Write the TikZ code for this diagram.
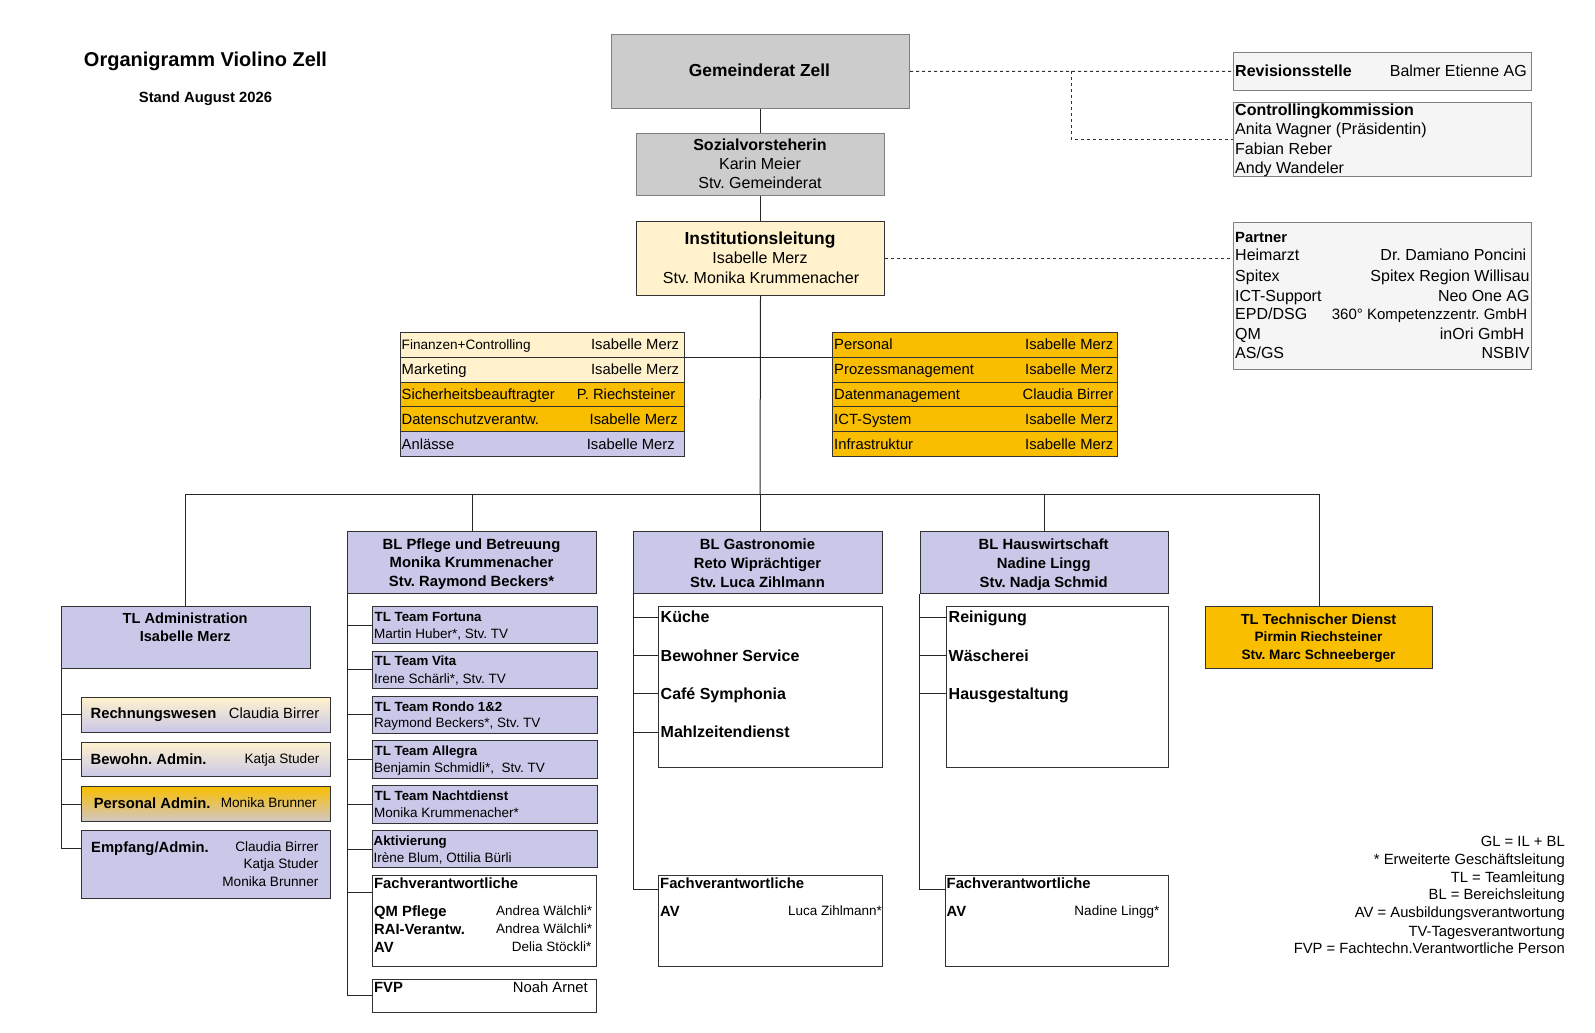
\documentclass[tikz,border=0pt]{standalone}
\usepackage{fontspec}
\setmainfont{Liberation Sans}
\usetikzlibrary{calc}
\frenchspacing
\definecolor{gold}{HTML}{F9BE00}
\definecolor{cream}{HTML}{FFF2CC}
\definecolor{lav}{HTML}{C9C8E8}
\definecolor{gry}{HTML}{CCCCCC}
\definecolor{gryb}{HTML}{7F7F7F}
\definecolor{pan}{HTML}{F5F5F5}
\definecolor{panb}{HTML}{808080}
\definecolor{dk}{HTML}{333333}
\tikzset{
  tx/.style={inner sep=0pt, font=\fontsize{#1pt}{#1pt}\selectfont, text height={0.716*#1pt}, text depth=0pt},
  bt/.style={inner sep=0pt, font=\fontsize{#1pt}{#1pt}\selectfont\bfseries, text height={0.716*#1pt}, text depth=0pt},
  lft/.style={anchor=west},
  rgt/.style={anchor=east},
  bx/.style={draw=dk, line width=1pt, inner sep=0pt, anchor=north west},
  gbx/.style={draw=gryb, fill=gry, line width=1pt, inner sep=0pt, anchor=north west},
  pbx/.style={draw=panb, fill=pan, line width=1pt, inner sep=0pt, anchor=north west},
  con/.style={draw=black!85, line width=1pt},
  dsh/.style={draw=black!80, line width=1pt, dash pattern=on 3pt off 3pt},
}
\begin{document}
\begin{tikzpicture}[x=1pt,y=-1pt]
\useasboundingbox (0,0) rectangle (1595,1033);

% title
\node[bt=20] (title) at (205.5,59) {Organigramm Violino Zell};
\node[bt=14.8] (stand) at (205.5,97.6) {Stand August 2026};

% top chain
\node[gbx, minimum width=298pt, minimum height=74pt] (gem) at (611,34) {};
\node[bt=17.4] (gemt) at (759.5,70.5) {Gemeinderat Zell};
\node[gbx, minimum width=248pt, minimum height=62pt] (soz) at (636,133) {};
\node[bt=16] (soz1) at (760,144.5) {Sozialvorsteherin};
\node[tx=16] (soz2) at (760,164) {Karin Meier};
\node[tx=16] (soz3) at (760,183) {Stv. Gemeinderat};
\node[bx, fill=cream, minimum width=248pt, minimum height=74pt] (inst) at (636,221) {};
\node[bt=17.4] (inst1) at (760,238) {Institutionsleitung};
\node[tx=16] (inst2) at (760,258) {Isabelle Merz};
\node[tx=16] (inst3) at (761,278) {Stv. Monika Krummenacher};

% right panels
\node[pbx, minimum width=298pt, minimum height=37.5pt] (rev) at (1233,52) {};
\node[bt=16, lft] (rev1) at (1235,70.5) {Revisionsstelle};
\node[tx=16, rgt] (rev2) at (1527,70.5) {Balmer Etienne AG};
\node[pbx, minimum width=298pt, minimum height=74pt] (ctrl) at (1233,102) {};
\node[bt=16, lft] (ctrl1) at (1235,110) {Controllingkommission};
\node[tx=16, lft] (ctrl2) at (1235,129) {Anita Wagner (Präsidentin)};
\node[tx=16, lft] (ctrl3) at (1235,148.5) {Fabian Reber};
\node[tx=16, lft] (ctrl4) at (1235,168) {Andy Wandeler};
\node[pbx, minimum width=298pt, minimum height=147pt] (partner) at (1233,222) {};
\node[bt=14.8, lft] (pt0) at (1235,237.5) {Partner};
\node[tx=16, lft] (pl1) at (1235,255) {Heimarzt};
\node[tx=16, lft] (pl2) at (1235,276) {Spitex};
\node[tx=16, lft] (pl3) at (1235,295.5) {ICT-Support};
\node[tx=16, lft] (pl4) at (1235,314) {EPD/DSG};
\node[tx=16, lft] (pl5) at (1235,334) {QM};
\node[tx=16, lft] (pl6) at (1235,352.7) {AS/GS};
\node[tx=16, rgt] (pr1) at (1526.5,255) {Dr. Damiano Poncini};
\node[tx=16, rgt] (pr2) at (1529.8,276) {Spitex Region Willisau};
\node[tx=16, rgt] (pr3) at (1529.8,295.5) {Neo One AG};
\node[tx=15, rgt] (pr4) at (1527.3,314) {360° Kompetenzzentr. GmbH};
\node[tx=16, rgt] (pr5) at (1524.5,334) {inOri GmbH};
\node[tx=16, rgt] (pr6) at (1529.8,352.7) {NSBIV};

% staff tables
\node[bx, fill=cream, minimum width=283.5pt, minimum height=24.9pt] (sl1) at (400,331.7) {};
\node[bx, fill=cream, minimum width=283.5pt, minimum height=24.9pt] (sl2) at (400,356.6) {};
\node[bx, fill=gold, minimum width=283.5pt, minimum height=24.9pt] (sl3) at (400,381.5) {};
\node[bx, fill=gold, minimum width=283.5pt, minimum height=24.9pt] (sl4) at (400,406.4) {};
\node[bx, fill=lav, minimum width=283.5pt, minimum height=24.9pt] (sl5) at (400,431.3) {};
\node[tx=13.6, lft] (sl1a) at (401.5,344.2) {Finanzen+Controlling};
\node[tx=14.8, rgt] (sl1b) at (679.3,344.2) {Isabelle Merz};
\node[tx=14.8, lft] (sl2a) at (401.5,369.1) {Marketing};
\node[tx=14.8, rgt] (sl2b) at (679.3,369.1) {Isabelle Merz};
\node[tx=14.8, lft] (sl3a) at (401.5,394) {Sicherheitsbeauftragter};
\node[tx=14.8, rgt] (sl3b) at (675.5,394) {P. Riechsteiner};
\node[tx=14.8, lft] (sl4a) at (401.5,418.9) {Datenschutzverantw.};
\node[tx=14.8, rgt] (sl4b) at (677.9,418.9) {Isabelle Merz};
\node[tx=14.8, lft] (sl5a) at (401.5,443.8) {Anlässe};
\node[tx=14.8, rgt] (sl5b) at (675,443.8) {Isabelle Merz};

\node[bx, fill=gold, minimum width=285pt, minimum height=24.9pt] (sr1) at (832,331.7) {};
\node[bx, fill=gold, minimum width=285pt, minimum height=24.9pt] (sr2) at (832,356.6) {};
\node[bx, fill=gold, minimum width=285pt, minimum height=24.9pt] (sr3) at (832,381.5) {};
\node[bx, fill=gold, minimum width=285pt, minimum height=24.9pt] (sr4) at (832,406.4) {};
\node[bx, fill=gold, minimum width=285pt, minimum height=24.9pt] (sr5) at (832,431.3) {};
\node[tx=14.8, lft] (sr1a) at (834,344.2) {Personal};
\node[tx=14.8, rgt] (sr1b) at (1113.4,344.2) {Isabelle Merz};
\node[tx=14.8, lft] (sr2a) at (834,369.1) {Prozessmanagement};
\node[tx=14.8, rgt] (sr2b) at (1113.4,369.1) {Isabelle Merz};
\node[tx=14.8, lft] (sr3a) at (834,394) {Datenmanagement};
\node[tx=14.8, rgt] (sr3b) at (1113.4,394) {Claudia Birrer};
\node[tx=14.8, lft] (sr4a) at (834,418.9) {ICT-System};
\node[tx=14.8, rgt] (sr4b) at (1113.4,418.9) {Isabelle Merz};
\node[tx=14.8, lft] (sr5a) at (834,443.8) {Infrastruktur};
\node[tx=14.8, rgt] (sr5b) at (1113.4,443.8) {Isabelle Merz};

% Administration
\node[bx, fill=lav, minimum width=248.5pt, minimum height=62pt] (adm) at (61,606) {};
\node[bt=14.6] (adm1) at (185.2,618.7) {TL Administration};
\node[bt=14.6] (adm2) at (185.2,636.7) {Isabelle Merz};
\node[bx, top color=cream, bottom color=lav, minimum width=249pt, minimum height=34.5pt] (rw) at (80.5,697) {};
\node[bt=14.8, lft] (rw1) at (90.4,713.5) {Rechnungswesen};
\node[tx=14.8, rgt] (rw2) at (319.6,713.5) {Claudia Birrer};
\node[bx, top color=cream, bottom color=lav, minimum width=249pt, minimum height=34.5pt] (bw) at (80.5,741.5) {};
\node[bt=14.8, lft] (bw1) at (90.4,759) {Bewohn. Admin.};
\node[tx=13.6, rgt] (bw2) at (319.6,759) {Katja Studer};
\node[bx, top color=gold, bottom color=lav!85!gold, minimum width=249pt, minimum height=35pt] (pa) at (80.5,786) {};
\node[bt=14.8, lft] (pa1) at (93.6,802.7) {Personal Admin.};
\node[tx=13.6, rgt] (pa2) at (317,802.7) {Monika Brunner};
\node[bx, fill=lav, minimum width=249pt, minimum height=68pt] (emp) at (80.5,830) {};
\node[bt=14.8, lft] (emp1) at (91,846.7) {Empfang/Admin.};
\node[tx=13.6, rgt] (emp2) at (318.6,846.7) {Claudia Birrer};
\node[tx=13.6, rgt] (emp3) at (318.6,864) {Katja Studer};
\node[tx=13.6, rgt] (emp4) at (318.6,881.7) {Monika Brunner};

% Pflege
\node[bx, fill=lav, minimum width=249pt, minimum height=62pt] (pfl) at (347,531) {};
\node[bt=14.8] (pfl1) at (471.5,544) {BL Pflege und Betreuung};
\node[bt=14.8] (pfl2) at (471.5,562) {Monika Krummenacher};
\node[bt=14.8] (pfl3) at (471.5,580.7) {Stv. Raymond Beckers*};

\node[bx, fill=lav, minimum width=224.5pt, minimum height=37.3pt] (t1) at (372,606) {};
\node[bt=13.3, lft] (t1a) at (374.5,616.3) {TL Team Fortuna};
\node[tx=13.5, lft] (t1b) at (374,633.5) {Martin Huber*, Stv. TV};
\node[bx, fill=lav, minimum width=224.5pt, minimum height=37.3pt] (t2) at (372,650.8) {};
\node[bt=13.3, lft] (t2a) at (374.5,661.1) {TL Team Vita};
\node[tx=13.5, lft] (t2b) at (374,678.3) {Irene Schärli*, Stv. TV};
\node[bx, fill=lav, minimum width=224.5pt, minimum height=37.3pt] (t3) at (372,695.6) {};
\node[bt=13.3, lft] (t3a) at (374.5,706.6) {TL Team Rondo 1\&2};
\node[tx=13.5, lft] (t3b) at (374,722.5) {Raymond Beckers*, Stv. TV};
\node[bx, fill=lav, minimum width=224.5pt, minimum height=37.3pt] (t4) at (372,740.4) {};
\node[bt=13.3, lft] (t4a) at (374.5,750.7) {TL Team Allegra};
\node[tx=13.5, lft] (t4b) at (374,767.9) {Benjamin Schmidli*,\ \ Stv. TV};
\node[bx, fill=lav, minimum width=224.5pt, minimum height=37.3pt] (t5) at (372,785.2) {};
\node[bt=13.3, lft] (t5a) at (374.5,795.3) {TL Team Nachtdienst};
\node[tx=13.5, lft] (t5b) at (374,812.5) {Monika Krummenacher*};
\node[bx, fill=lav, minimum width=224.5pt, minimum height=37.3pt] (t6) at (372,830) {};
\node[bt=13.3, lft] (t6a) at (373.5,840.3) {Aktivierung};
\node[tx=13.5, lft] (t6b) at (373.5,857.7) {Irène Blum, Ottilia Bürli};

\node[bx, fill=white, minimum width=224pt, minimum height=90.5pt] (fachP) at (372,875) {};
\node[bt=14.8, lft] (fp0) at (374,883.5) {Fachverantwortliche};
\node[bt=14.8, lft] (fp1) at (374,911) {QM Pflege};
\node[bt=14.8, lft] (fp2) at (374,929) {RAI-Verantw.};
\node[bt=14.8, lft] (fp3) at (374,947) {AV};
\node[tx=13.5, rgt] (fp1r) at (592.3,911) {Andrea Wälchli*};
\node[tx=13.5, rgt] (fp2r) at (592.3,929) {Andrea Wälchli*};
\node[tx=13.5, rgt] (fp3r) at (591.5,947) {Delia Stöckli*};
\node[bx, fill=white, minimum width=224pt, minimum height=33pt] (fvp) at (372,978.5) {};
\node[bt=14.8, lft] (fvp1) at (374,987) {FVP};
\node[tx=14.8, rgt] (fvp2) at (588,987) {Noah Arnet};

% Gastronomie
\node[bx, fill=lav, minimum width=249pt, minimum height=62pt] (gas) at (633,531) {};
\node[bt=14.8] (gas1) at (757.5,544.3) {BL Gastronomie};
\node[bt=14.8] (gas2) at (757.5,563.3) {Reto Wiprächtiger};
\node[bt=14.8] (gas3) at (757.5,582) {Stv. Luca Zihlmann};
\node[bx, fill=white, minimum width=224pt, minimum height=161pt] (gsv) at (658,606) {};
\node[bt=16, lft] (g1) at (660.5,617) {Küche};
\node[bt=16, lft] (g2) at (660.5,655.5) {Bewohner Service};
\node[bt=16, lft] (g3) at (660.5,693.5) {Café Symphonia};
\node[bt=16, lft] (g4) at (660.5,732) {Mahlzeitendienst};
\node[bx, fill=white, minimum width=224pt, minimum height=90.5pt] (fachG) at (658,875) {};
\node[bt=14.8, lft] (fg0) at (660,883.5) {Fachverantwortliche};
\node[bt=14.8, lft] (fg1) at (660,911) {AV};
\node[tx=13.5, rgt] (fg1r) at (882,911) {Luca Zihlmann*};

% Hauswirtschaft
\node[bx, fill=lav, minimum width=248.5pt, minimum height=62pt] (hw) at (919.5,531) {};
\node[bt=14.8] (hw1) at (1043.7,544.3) {BL Hauswirtschaft};
\node[bt=14.8] (hw2) at (1043.7,563.3) {Nadine Lingg};
\node[bt=14.8] (hw3) at (1043.7,582) {Stv. Nadja Schmid};
\node[bx, fill=white, minimum width=222pt, minimum height=161pt] (hsv) at (946,606) {};
\node[bt=16, lft] (h1) at (948.5,617) {Reinigung};
\node[bt=16, lft] (h2) at (948.5,655.5) {Wäscherei};
\node[bt=16, lft] (h3) at (948.5,693.5) {Hausgestaltung};
\node[bx, fill=white, minimum width=223.5pt, minimum height=90.5pt] (fachH) at (944.5,875) {};
\node[bt=14.8, lft] (fh0) at (946.5,883.5) {Fachverantwortliche};
\node[bt=14.8, lft] (fh1) at (946.5,911) {AV};
\node[tx=13.5, rgt] (fh1r) at (1159.5,911) {Nadine Lingg*};

% Technischer Dienst
\node[bx, fill=gold, minimum width=227pt, minimum height=62pt] (tech) at (1205,606) {};
\node[bt=14.6] (tech1) at (1318.5,619) {TL Technischer Dienst};
\node[bt=13.6] (tech2) at (1318.5,637) {Pirmin Riechsteiner};
\node[bt=13.6] (tech3) at (1318.5,654.5) {Stv. Marc Schneeberger};

% legend
\node[tx=14.8, rgt] (lg1) at (1565,841) {GL = IL + BL};
\node[tx=14.8, rgt] (lg2) at (1565,859.5) {* Erweiterte Geschäftsleitung};
\node[tx=14.8, rgt] (lg3) at (1565,877) {TL = Teamleitung};
\node[tx=14.8, rgt] (lg4) at (1565,894.5) {BL = Bereichsleitung};
\node[tx=14.8, rgt] (lg5) at (1565,912) {AV = Ausbildungsverantwortung};
\node[tx=14.8, rgt] (lg6) at (1565,931) {TV-Tagesverantwortung};
\node[tx=14.8, rgt] (lg7) at (1565,948) {FVP = Fachtechn.Verantwortliche Person};

% connectors
\coordinate (busC) at (760,494.4);
\coordinate (cbr) at (1071,71);
\draw[con] (gem.south) -- (soz.north);
\draw[con] (soz.south) -- (inst.north);
\draw[con] (inst.south) -- (busC);
\draw[con] (sl1.south east) -- (sr1.south west);
\draw[con] (adm.north) |- (busC) -| (tech.north);
\draw[con] (pfl.north) -- (pfl.north |- busC);
\draw[con] (busC) -- (busC |- gas.north);
\draw[con] (hw.north) -- (hw.north |- busC);
\draw[dsh] (gem.east) -- (rev.west);
\draw[dsh] (cbr) |- (ctrl.west);
\draw[dsh] (inst.east) -- (inst.east -| partner.west);

% admin branches
\draw[con] (adm.south west) |- ($(emp.north west)+(0,18)$);
\draw[con] (adm.south west |- rw.west) -- (rw.west);
\draw[con] (adm.south west |- bw.west) -- (bw.west);
\draw[con] (adm.south west |- pa.west) -- (pa.west);

% pflege branches
\draw[con] (pfl.south west) |- (fvp.west);
\draw[con] (pfl.south west |- t1.west) -- (t1.west);
\draw[con] (pfl.south west |- t2.west) -- (t2.west);
\draw[con] (pfl.south west |- t3.west) -- (t3.west);
\draw[con] (pfl.south west |- t4.west) -- (t4.west);
\draw[con] (pfl.south west |- t5.west) -- (t5.west);
\draw[con] (pfl.south west |- t6.west) -- (t6.west);
\draw[con] (pfl.south west |- fachP.north west) ++(0,17) -- ($(fachP.north west)+(0,17)$);

% gastro branches
\draw[con] (gas.south west) |- ($(fachG.north west)+(0,14.5)$);
\draw[con] (gas.south west |- g1.west) -- (gsv.west |- g1.west);
\draw[con] (gas.south west |- g2.west) -- (gsv.west |- g2.west);
\draw[con] (gas.south west |- g3.west) -- (gsv.west |- g3.west);
\draw[con] (gas.south west |- g4.west) -- (gsv.west |- g4.west);

% hauswirtschaft branches
\draw[con] (hw.south west) |- ($(fachH.north west)+(0,14.5)$);
\draw[con] (hw.south west |- h1.west) -- (hsv.west |- h1.west);
\draw[con] (hw.south west |- h2.west) -- (hsv.west |- h2.west);
\draw[con] (hw.south west |- h3.west) -- (hsv.west |- h3.west);
\end{tikzpicture}
\end{document}
